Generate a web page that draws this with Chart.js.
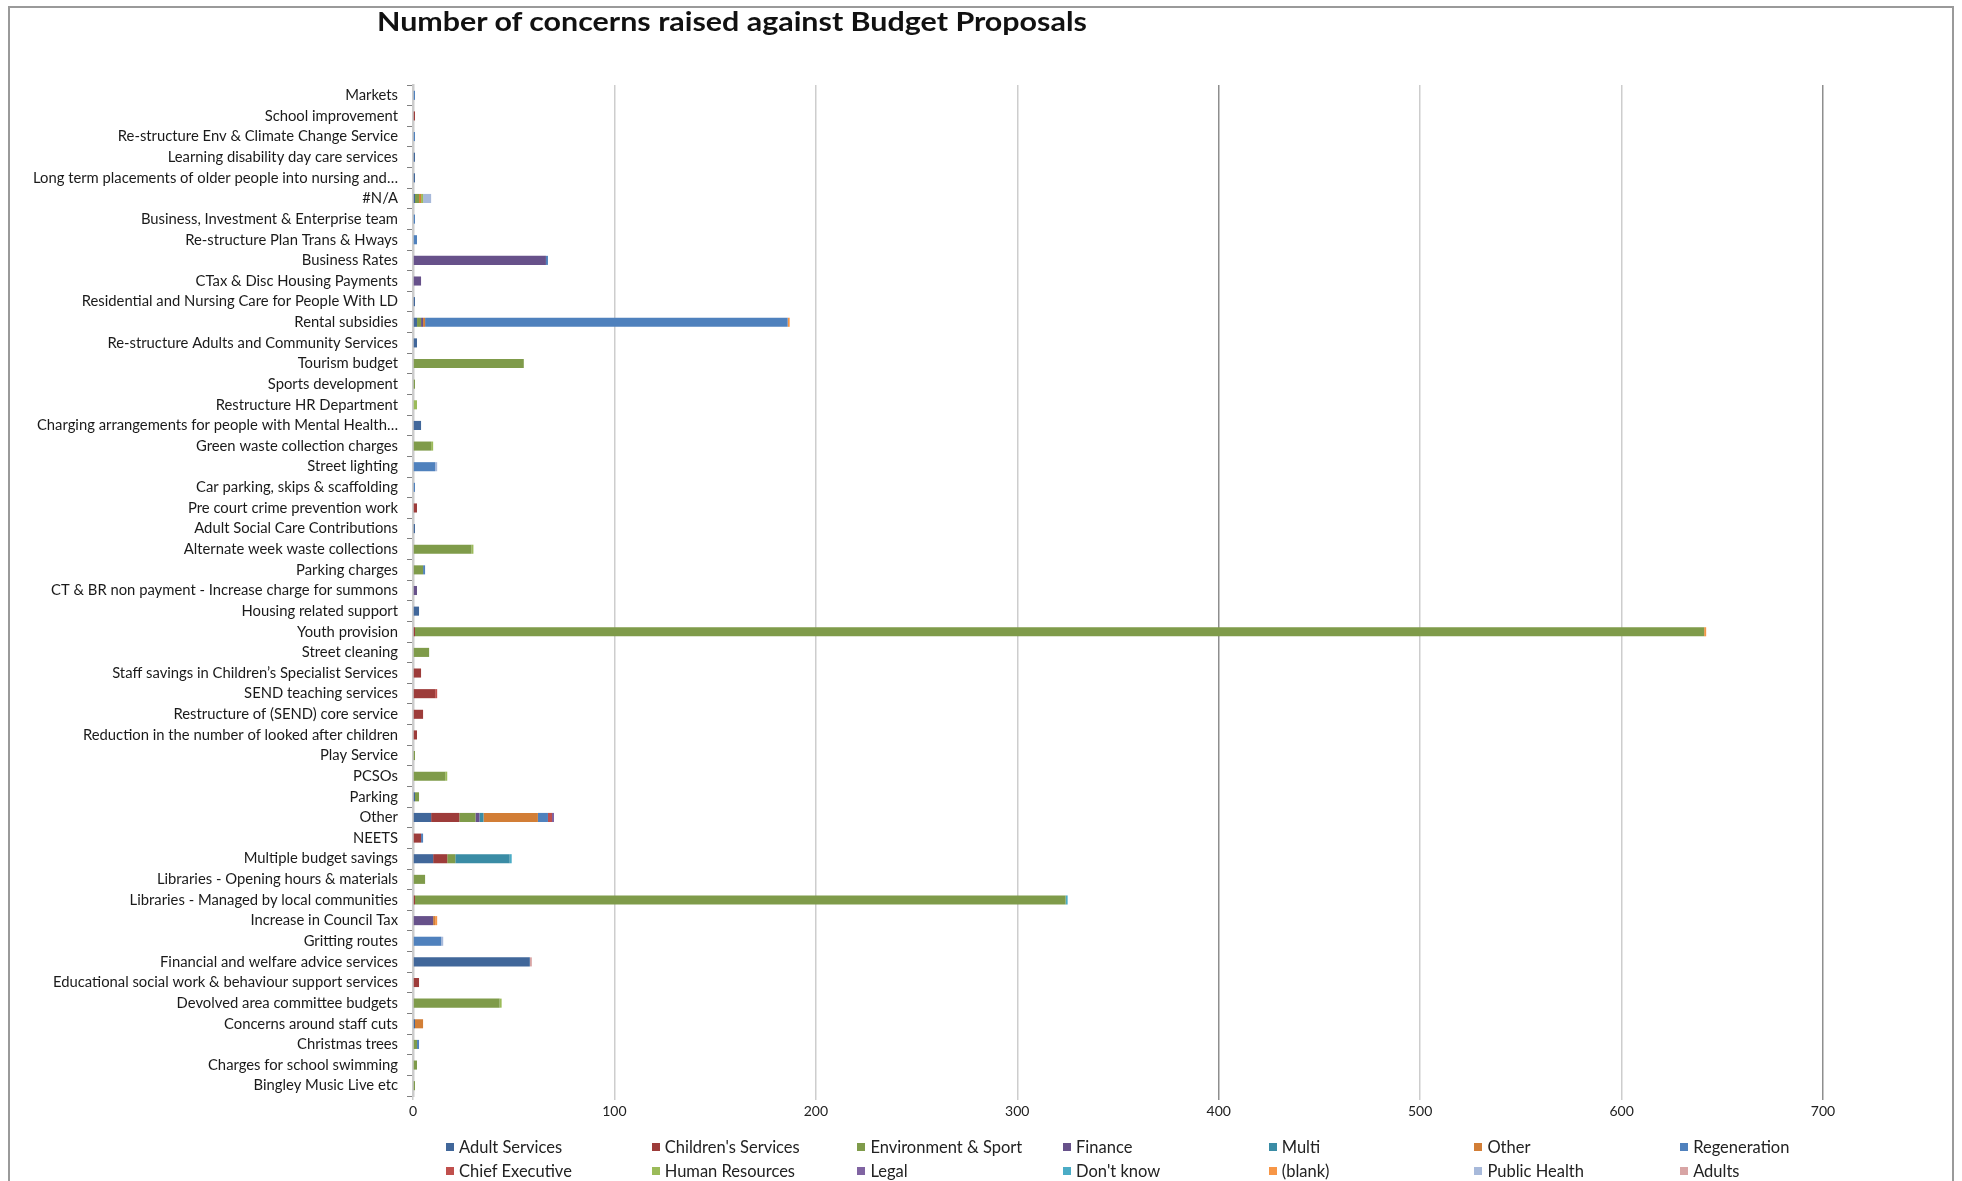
<!DOCTYPE html>
<html>
<head>
<meta charset="utf-8">
<title>Number of concerns raised against Budget Proposals</title>
<script src="https://cdn.jsdelivr.net/npm/chart.js@4.4.1/dist/chart.umd.min.js"></script>
<style>
  html, body { margin: 0; padding: 0; background: #fff; }
  #wrap { position: relative; width: 1962px; height: 1181px; overflow: hidden; font-family: Lato, "Open Sans", sans-serif; }
  #frame { position: absolute; left: 8px; top: 6px; width: 1942px; height: 1200px; border: 2px solid #9a9a9a; }
  #title { position: absolute; left: 377px; top: 5px; font-weight: bold; font-size: 26px; color: #111; white-space: nowrap; transform: scaleX(1.17); transform-origin: left top; }
  canvas { position: absolute; left: 0; top: 0; }
  #legend { position: absolute; left: 446px; top: 1135px; display: grid; grid-template-columns: repeat(7, 205.7px); grid-auto-rows: 24px; font-size: 16.5px; color: #222; }
  .item { display: flex; align-items: center; white-space: nowrap; }
  .swatch { width: 8px; height: 8px; margin-right: 5px; flex: none; }
</style>
</head>
<body>
<div id="wrap">
  <div id="frame"></div>
  <canvas id="chart" width="1962" height="1181"></canvas>
  <div id="title">Number of concerns raised against Budget Proposals</div>
  <div id="legend"></div>
</div>
<script>
// Budget proposals, top of the chart first
const categories = [
  "Markets",
  "School improvement",
  "Re-structure Env & Climate Change Service",
  "Learning disability day care services",
  "Long term placements of older people into nursing and…",
  "#N/A",
  "Business, Investment & Enterprise team",
  "Re-structure Plan Trans & Hways",
  "Business Rates",
  "CTax & Disc Housing Payments",
  "Residential and Nursing Care for People With LD",
  "Rental subsidies",
  "Re-structure Adults and Community Services",
  "Tourism budget",
  "Sports development",
  "Restructure HR Department",
  "Charging arrangements for people with Mental Health…",
  "Green waste collection charges",
  "Street lighting",
  "Car parking, skips & scaffolding",
  "Pre court crime prevention work",
  "Adult Social Care Contributions",
  "Alternate week waste collections",
  "Parking charges",
  "CT & BR non payment - Increase charge for summons",
  "Housing related support",
  "Youth provision",
  "Street cleaning",
  "Staff savings in Children’s Specialist Services",
  "SEND teaching services",
  "Restructure of (SEND) core service",
  "Reduction in the number of looked after children",
  "Play Service",
  "PCSOs",
  "Parking",
  "Other",
  "NEETS",
  "Multiple budget savings",
  "Libraries - Opening hours & materials",
  "Libraries - Managed by local communities",
  "Increase in Council Tax",
  "Gritting routes",
  "Financial and welfare advice services",
  "Educational social work & behaviour support services",
  "Devolved area committee budgets",
  "Concerns around staff cuts",
  "Christmas trees",
  "Charges for school swimming",
  "Bingley Music Live etc"
];

// concerns per department, same order as categories
const adultServices = [
  0, 0, 0, 1, 1, 1, 0, 0, 0, 0,
  1, 2, 2, 0, 0, 0, 4, 0, 0, 0,
  0, 1, 0, 0, 0, 3, 0, 0, 0, 0,
  0, 0, 0, 0, 1, 9, 0, 10, 0, 0,
  0, 0, 58, 0, 0, 1, 0, 0, 0
];
const childrensServices = [
  0, 1, 0, 0, 0, 0, 0, 0, 0, 0,
  0, 0, 0, 0, 0, 0, 0, 0, 0, 0,
  2, 0, 0, 0, 0, 0, 1, 0, 4, 11,
  5, 2, 0, 0, 0, 14, 4, 7, 0, 1,
  0, 0, 0, 3, 0, 0, 0, 0, 0
];
const environmentSport = [
  0, 0, 0, 0, 0, 2, 0, 0, 0, 0,
  0, 2, 0, 55, 1, 0, 0, 9, 0, 0,
  0, 0, 29, 5, 0, 0, 640, 8, 0, 0,
  0, 0, 1, 16, 2, 8, 0, 4, 6, 323,
  0, 0, 0, 0, 43, 0, 2, 2, 1
];
const finance = [
  0, 0, 0, 0, 0, 0, 0, 0, 66, 4,
  0, 1, 0, 0, 0, 0, 0, 0, 0, 0,
  0, 0, 0, 0, 2, 0, 0, 0, 0, 0,
  0, 0, 0, 0, 0, 2, 0, 0, 0, 0,
  10, 0, 0, 0, 0, 0, 0, 0, 0
];
const multi = [
  0, 0, 0, 0, 0, 0, 0, 0, 0, 0,
  0, 0, 0, 0, 0, 0, 0, 0, 0, 0,
  0, 0, 0, 0, 0, 0, 0, 0, 0, 0,
  0, 0, 0, 0, 0, 2, 0, 27, 0, 0,
  0, 0, 0, 0, 0, 0, 0, 0, 0
];
const other = [
  0, 0, 0, 0, 0, 1, 0, 0, 0, 0,
  0, 1, 0, 0, 0, 0, 0, 0, 0, 0,
  0, 0, 0, 0, 0, 0, 0, 0, 0, 0,
  0, 0, 0, 0, 0, 27, 0, 0, 0, 0,
  1, 0, 0, 0, 0, 4, 0, 0, 0
];
const regeneration = [
  1, 0, 1, 0, 0, 0, 1, 2, 1, 0,
  0, 180, 0, 0, 0, 0, 0, 0, 11, 1,
  0, 0, 0, 1, 0, 0, 0, 0, 0, 0,
  0, 0, 0, 0, 0, 5, 1, 0, 0, 0,
  0, 14, 0, 0, 0, 0, 1, 0, 0
];
const chiefExecutive = [
  0, 0, 0, 0, 0, 0, 0, 0, 0, 0,
  0, 0, 0, 0, 0, 0, 0, 0, 0, 0,
  0, 0, 0, 0, 0, 0, 0, 0, 0, 1,
  0, 0, 0, 0, 0, 2, 0, 0, 0, 0,
  0, 0, 0, 0, 0, 0, 0, 0, 0
];
const humanResources = [
  0, 0, 0, 0, 0, 1, 0, 0, 0, 0,
  0, 0, 0, 0, 0, 2, 0, 1, 0, 0,
  0, 0, 1, 0, 0, 0, 0, 0, 0, 0,
  0, 0, 0, 1, 0, 0, 0, 0, 0, 0,
  0, 0, 0, 0, 1, 0, 0, 0, 0
];
const legal = [
  0, 0, 0, 0, 0, 0, 0, 0, 0, 0,
  0, 0, 0, 0, 0, 0, 0, 0, 0, 0,
  0, 0, 0, 0, 0, 0, 0, 0, 0, 0,
  0, 0, 0, 0, 0, 1, 0, 0, 0, 0,
  0, 0, 0, 0, 0, 0, 0, 0, 0
];
const dontKnow = [
  0, 0, 0, 0, 0, 0, 0, 0, 0, 0,
  0, 0, 0, 0, 0, 0, 0, 0, 0, 0,
  0, 0, 0, 0, 0, 0, 0, 0, 0, 0,
  0, 0, 0, 0, 0, 0, 0, 1, 0, 1,
  0, 0, 0, 0, 0, 0, 0, 0, 0
];
const blank = [
  0, 0, 0, 0, 0, 0, 0, 0, 0, 0,
  0, 1, 0, 0, 0, 0, 0, 0, 0, 0,
  0, 0, 0, 0, 0, 0, 1, 0, 0, 0,
  0, 0, 0, 0, 0, 0, 0, 0, 0, 0,
  1, 0, 0, 0, 0, 0, 0, 0, 0
];
const publicHealth = [
  0, 0, 0, 0, 0, 4, 0, 0, 0, 0,
  0, 0, 0, 0, 0, 0, 0, 0, 1, 0,
  0, 0, 0, 0, 0, 0, 0, 0, 0, 0,
  0, 0, 0, 0, 0, 0, 0, 0, 0, 0,
  0, 1, 0, 0, 0, 0, 0, 0, 0
];
const adults = [
  0, 0, 0, 0, 0, 0, 0, 0, 0, 0,
  0, 0, 0, 0, 0, 0, 0, 0, 0, 0,
  0, 0, 0, 0, 0, 0, 0, 0, 0, 0,
  0, 0, 0, 0, 0, 0, 0, 0, 0, 0,
  0, 0, 1, 0, 0, 0, 0, 0, 0
];

const xTicks = [0, 100, 200, 300, 400, 500, 600, 700];

// stacking order = legend order
const series = [
  { label: "Adult Services", data: adultServices, color: "#41679a" },
  { label: "Children's Services", data: childrensServices, color: "#9d3c3a" },
  { label: "Environment & Sport", data: environmentSport, color: "#7f9b4a" },
  { label: "Finance", data: finance, color: "#67518a" },
  { label: "Multi", data: multi, color: "#3a8ca5" },
  { label: "Other", data: other, color: "#d27e36" },
  { label: "Regeneration", data: regeneration, color: "#4f81bd" },
  { label: "Chief Executive", data: chiefExecutive, color: "#c0504d" },
  { label: "Human Resources", data: humanResources, color: "#9bbb59" },
  { label: "Legal", data: legal, color: "#8064a2" },
  { label: "Don't know", data: dontKnow, color: "#4bacc6" },
  { label: "(blank)", data: blank, color: "#f79646" },
  { label: "Public Health", data: publicHealth, color: "#a7b9da" },
  { label: "Adults", data: adults, color: "#d8a5a5" }
];

const tickFont = { family: "Lato, 'Open Sans', sans-serif", size: 14 };
const catFont = { family: "Lato, 'Open Sans', sans-serif", size: 14.8 };

const chart = new Chart(document.getElementById('chart'), {
  type: 'bar',
  data: {
    labels: categories,
    datasets: series.map(s => ({
      label: s.label,
      data: s.data,
      backgroundColor: s.color,
      borderWidth: 0,
      categoryPercentage: 1,
      barPercentage: 0.44
    }))
  },
  options: {
    indexAxis: 'y',
    responsive: false,
    animation: false,
    layout: { padding: { left: 0, top: 85, right: 139, bottom: 0 } },
    plugins: {
      legend: { display: false },
      title: { display: false },
      tooltip: { enabled: false }
    },
    scales: {
      x: {
        stacked: true,
        min: xTicks[0],
        max: xTicks[xTicks.length - 1],
        afterBuildTicks: scale => { scale.ticks = xTicks.map(v => ({ value: v })); },
        ticks: { font: tickFont, color: '#222', padding: 3 },
        grid: {
          color: ctx => (ctx.tick && (ctx.tick.value === 400 || ctx.tick.value === 700)) ? '#8e8e8e' : '#cdcdcd',
          lineWidth: 1.5,
          tickLength: 4
        },
        border: { display: false },
        afterFit: scale => { scale.height = 85; }
      },
      y: {
        stacked: true,
        ticks: { font: catFont, color: '#1a1a1a', autoSkip: false, padding: 9 },
        grid: { drawOnChartArea: false, color: '#808080', tickLength: 6 },
        border: { color: '#cccccc', width: 2.5 },
        afterFit: scale => { scale.width = 413; }
      }
    }
  }
});

// legend as two rows of seven, like the original
const legendEl = document.getElementById('legend');
chart.data.datasets.forEach(ds => {
  const item = document.createElement('div');
  item.className = 'item';
  const sw = document.createElement('span');
  sw.className = 'swatch';
  sw.style.background = ds.backgroundColor;
  const txt = document.createElement('span');
  txt.textContent = ds.label;
  item.appendChild(sw);
  item.appendChild(txt);
  legendEl.appendChild(item);
});
</script>
</body>
</html>
